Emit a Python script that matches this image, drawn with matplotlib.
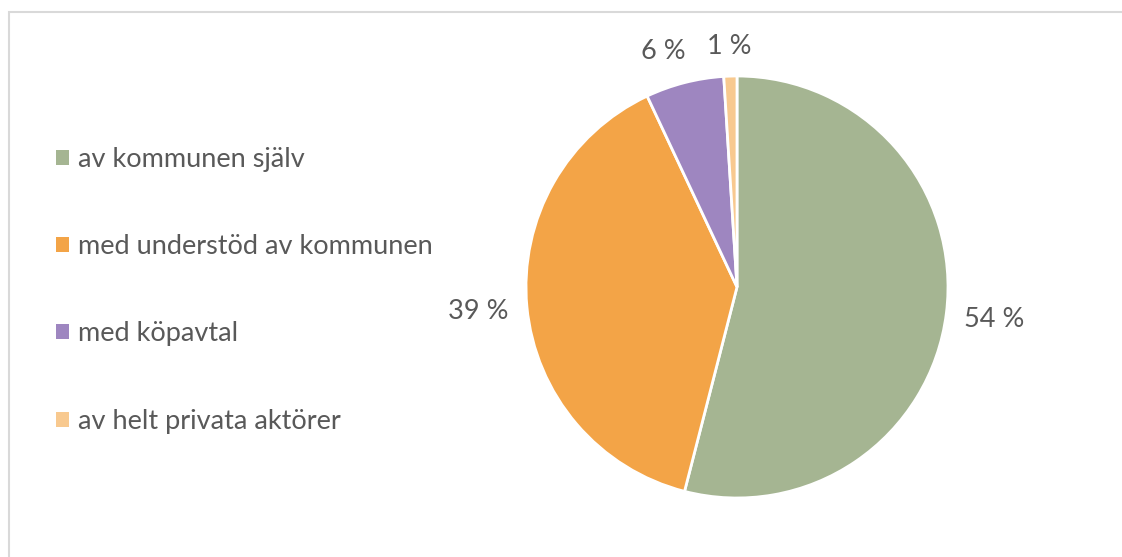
import numpy as np
import matplotlib
matplotlib.use('Agg')
import matplotlib.pyplot as plt
from matplotlib.patches import Patch, Rectangle

# data
categories = ['av kommunen själv', 'med understöd av kommunen', 'med köpavtal', 'av helt privata aktörer']
shares = [54, 39, 6, 1]
colors = ['#A5B592', '#F3A447', '#9E86C0', '#F8C98F']

# label placement tweaks (radius units / degrees)
label_dist = [1.23, 1.23, 1.17, 1.14]
label_turn = [0, 0, 3, 0]

plt.rcParams['font.family'] = ['Lato', 'DejaVu Sans']
text_col = '#595959'
fs = 19.5

fig = plt.figure(figsize=(11.22, 5.57), dpi=100)

# light frame of the chart area (right/bottom cut off in the original)
W, H = 1122, 557
fig.patches.append(Rectangle((8.5 / W, -0.1), 1.2, (H - 11.5) / H + 0.1,
                             transform=fig.transFigure, fill=False,
                             edgecolor='#D9D9D9', lw=1.5))

ax = fig.add_axes([(737 - 211) / W, (H - 287 - 211) / H, 422 / W, 422 / H])
wedges, _ = ax.pie(shares, colors=colors, startangle=90, counterclock=False,
                   wedgeprops=dict(edgecolor='white', linewidth=2))
ax.set_xlim(-1, 1)
ax.set_ylim(-1, 1)
ax.axis('off')

for w, s, d, t in zip(wedges, shares, label_dist, label_turn):
    ang = np.deg2rad((w.theta1 + w.theta2) / 2 + t)
    ax.text(d * np.cos(ang), d * np.sin(ang), f'{s} %', ha='center', va='center',
            fontsize=fs, color=text_col)

handles = [Patch(facecolor=c, edgecolor='none') for c in colors]
fig.legend(handles, categories, loc='upper left', bbox_to_anchor=(45 / W, 1 - 136 / H),
           frameon=False, fontsize=fs, labelcolor=text_col,
           handlelength=0.48, handleheight=0.48, handletextpad=0.35,
           labelspacing=2.3, borderaxespad=0)

fig.savefig('out.png', dpi=100)
